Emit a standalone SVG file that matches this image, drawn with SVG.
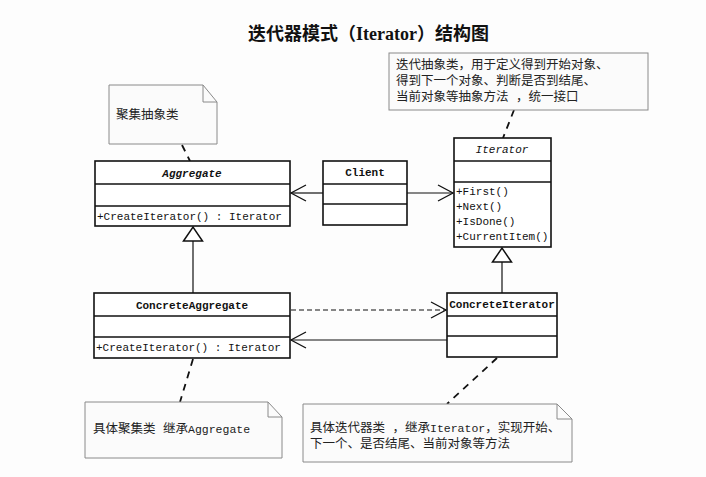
<svg xmlns="http://www.w3.org/2000/svg" width="706" height="477" viewBox="0 0 706 477">
<style>
.box{fill:#fff;stroke:#111;stroke-width:1.6}
.sep{stroke:#111;stroke-width:1.4}
.note{fill:#fbfbfb;stroke:#8a8a8a;stroke-width:1}
.cls{font-family:"Liberation Mono","DejaVu Sans Mono",monospace;font-size:11px;fill:#111}
.name{font-weight:bold;text-anchor:middle}
.abs{font-style:italic;text-anchor:middle}
.ntxt{font-family:"Liberation Mono","Noto Sans CJK SC",monospace;font-size:12.5px;fill:#222}
.lat{font-size:11.5px}
.title{font-family:"Liberation Serif","Noto Sans CJK SC",serif;font-size:18px;font-weight:bold;fill:#111}
.ln{stroke:#111;stroke-width:1.2;fill:none}
.dep{stroke:#111;stroke-width:1.1;stroke-dasharray:5 3;fill:none}
.anc{stroke:#111;stroke-width:1.8;stroke-dasharray:7 6;fill:none}
</style>
<defs>
<marker id="open" viewBox="-17 -10 19 20" refX="0" refY="0" markerWidth="19" markerHeight="20" markerUnits="userSpaceOnUse" orient="auto">
<path d="M-15,-8 L0,0 L-15,8" fill="none" stroke="#111" stroke-width="1.3"/>
</marker>
<marker id="tri" viewBox="-16 -11 18 22" refX="0" refY="0" markerWidth="18" markerHeight="22" markerUnits="userSpaceOnUse" orient="auto">
<path d="M-14,-9.5 L0,0 L-14,9.5 Z" fill="#fff" stroke="#111" stroke-width="1.5"/>
</marker>
</defs>
<rect x="0" y="0" width="706" height="477" fill="#fdfdfd"/>
<text class="title" x="248" y="40">迭代器模式（Iterator）结构图</text>

<g id="connectors">
<line class="ln" x1="323" y1="193" x2="291" y2="193" marker-end="url(#open)"/>
<line class="ln" x1="407" y1="193" x2="453" y2="193" marker-end="url(#open)"/>
<line class="ln" x1="193" y1="293" x2="193" y2="227" marker-end="url(#tri)"/>
<line class="ln" x1="502" y1="293" x2="502" y2="248" marker-end="url(#tri)"/>
<line class="dep" x1="291" y1="310" x2="446" y2="310" marker-end="url(#open)"/>
<line class="ln" x1="447" y1="340" x2="291" y2="340" marker-end="url(#open)"/>
<line class="anc" x1="182" y1="145" x2="190" y2="161"/>
<line class="anc" x1="514" y1="110" x2="503" y2="138"/>
<line class="anc" x1="193" y1="359" x2="180" y2="402"/>
<line class="anc" x1="497" y1="358" x2="447" y2="404"/>
</g>

<g id="note-aggregate">
<path class="note" d="M109,85 H203 L217,102 V144 H109 Z"/>
<path d="M203,85 V102 H217" fill="none" stroke="#8a8a8a" stroke-width="1"/>
<text class="ntxt" x="116" y="119">聚集抽象类</text>
</g>

<g id="note-iterator">
<rect class="note" x="389" y="53" width="259" height="57"/>
<text class="ntxt" x="396" y="69">迭代抽象类，用于定义得到开始对象、</text>
<text class="ntxt" x="396" y="85">得到下一个对象、判断是否到结尾、</text>
<text class="ntxt" x="396" y="101">当前对象等抽象方法 ，统一接口</text>
</g>

<g id="Aggregate">
<rect class="box" x="95" y="161" width="195" height="65"/>
<line class="sep" x1="95" y1="184" x2="290" y2="184"/>
<line class="sep" x1="95" y1="206" x2="290" y2="206"/>
<text class="cls abs" x="192" y="177" font-weight="bold">Aggregate</text>
<text class="cls" x="97" y="220">+CreateIterator() : Iterator</text>
</g>

<g id="Client">
<rect class="box" x="323" y="161" width="84" height="64"/>
<line class="sep" x1="323" y1="184" x2="407" y2="184"/>
<line class="sep" x1="323" y1="204" x2="407" y2="204"/>
<text class="cls name" x="365" y="176">Client</text>
</g>

<g id="Iterator">
<rect class="box" x="454" y="138" width="97" height="109"/>
<line class="sep" x1="454" y1="161" x2="551" y2="161"/>
<line class="sep" x1="454" y1="182" x2="551" y2="182"/>
<text class="cls abs" x="502" y="153">Iterator</text>
<text class="cls" x="456" y="195">+First()</text>
<text class="cls" x="456" y="210">+Next()</text>
<text class="cls" x="456" y="225">+IsDone()</text>
<text class="cls" x="456" y="240">+CurrentItem()</text>
</g>

<g id="ConcreteAggregate">
<rect class="box" x="94" y="293" width="196" height="65"/>
<line class="sep" x1="94" y1="316" x2="290" y2="316"/>
<line class="sep" x1="94" y1="337" x2="290" y2="337"/>
<text class="cls name" x="192" y="309">ConcreteAggregate</text>
<text class="cls" x="96" y="351">+CreateIterator() : Iterator</text>
</g>

<g id="ConcreteIterator">
<rect class="box" x="447" y="293" width="110" height="64"/>
<line class="sep" x1="447" y1="316" x2="557" y2="316"/>
<line class="sep" x1="447" y1="336" x2="557" y2="336"/>
<text class="cls name" x="502" y="308">ConcreteIterator</text>
</g>

<g id="note-concrete-aggregate">
<path class="note" d="M85,402 H268 L282,417 V458 H85 Z"/>
<path d="M268,402 V417 H282" fill="none" stroke="#8a8a8a" stroke-width="1"/>
<text class="ntxt" x="93" y="433">具体聚集类 继承<tspan class="lat">Aggregate</tspan></text>
</g>

<g id="note-concrete-iterator">
<path class="note" d="M303,404 H557 L572,419 V462 H303 Z"/>
<path d="M557,404 V419 H572" fill="none" stroke="#8a8a8a" stroke-width="1"/>
<text class="ntxt" x="310" y="432">具体迭代器类 ，继承<tspan class="lat">Iterator</tspan>，实现开始、</text>
<text class="ntxt" x="310" y="448">下一个、是否结尾、当前对象等方法</text>
</g>
</svg>
